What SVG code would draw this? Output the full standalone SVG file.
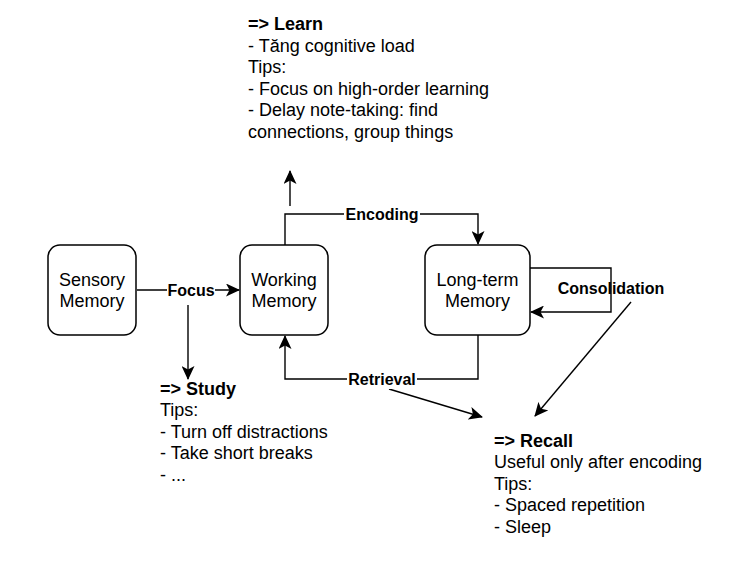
<svg xmlns="http://www.w3.org/2000/svg" width="746" height="562" viewBox="0 0 746 562">
<defs>
<style>
.box{fill:#fff;stroke:#000;stroke-width:1.5}
.edge{fill:none;stroke:#000;stroke-width:1.4}
.lbl{font-family:"Liberation Sans",Arial,sans-serif;font-size:18px;fill:#000;text-anchor:middle}
.elbl{font-family:"Liberation Sans",Arial,sans-serif;font-size:16px;font-weight:bold;fill:#000;text-anchor:middle}
.bg{fill:#fff}
.txt{font-family:"Liberation Sans",Arial,sans-serif;font-size:18px;fill:#000}
.b{font-weight:bold}
</style>
<marker id="arr" markerUnits="userSpaceOnUse" viewBox="0 0 14 13" refX="13" refY="6.5" markerWidth="14" markerHeight="13" orient="auto">
<path d="M0,0 L14,6.5 L0,13 L3.5,6.5 Z" fill="#000"/>
</marker>
</defs>
<rect width="746" height="562" fill="#fff"/>

<g id="connectors">
<path class="edge" d="M137,290 L239,290" marker-end="url(#arr)"/>
<path class="edge" d="M188,305 L188,379" marker-end="url(#arr)"/>
<path class="edge" d="M290,206 L290,171" marker-end="url(#arr)"/>
<path class="edge" d="M285,245 L285,214 L478,214 L478,244" marker-end="url(#arr)"/>
<path class="edge" d="M530,268 L611,268 L611,312 L531,312" marker-end="url(#arr)"/>
<path class="edge" d="M478,335 L478,379 L285,379 L285,336" marker-end="url(#arr)"/>
<path class="edge" d="M389,389 L482,417" marker-end="url(#arr)"/>
<path class="edge" d="M631,302 L535,416" marker-end="url(#arr)"/>
<rect class="bg" x="167" y="280" width="48" height="19"/>
<text class="elbl" x="191" y="295.5">Focus</text>
<rect class="bg" x="344" y="205" width="76" height="19"/>
<text class="elbl" x="382" y="219.5">Encoding</text>
<rect class="bg" x="347" y="370" width="70" height="19"/>
<text class="elbl" x="382" y="384.5">Retrieval</text>
<text class="elbl" x="611" y="293.5">Consolidation</text>
</g>

<g id="sensory">
<rect class="box" x="48" y="245" width="88" height="90" rx="12"/>
<text class="lbl" x="92" y="285.5">Sensory</text>
<text class="lbl" x="92" y="307">Memory</text>
</g>

<g id="working">
<rect class="box" x="240" y="245" width="88" height="90" rx="12"/>
<text class="lbl" x="284" y="285.5">Working</text>
<text class="lbl" x="284" y="307">Memory</text>
</g>

<g id="longterm">
<rect class="box" x="425" y="245" width="105" height="90" rx="12"/>
<text class="lbl" x="477.5" y="285.5">Long-term</text>
<text class="lbl" x="477.5" y="307">Memory</text>
</g>

<g id="learn">
<text class="txt" x="248" y="30"><tspan class="b">=&gt; Learn</tspan><tspan x="248" dy="21.6">- Tăng cognitive load</tspan><tspan x="248" dy="21.6">Tips:</tspan><tspan x="248" dy="21.6">- Focus on high-order learning</tspan><tspan x="248" dy="21.6">- Delay note-taking: find</tspan><tspan x="248" dy="21.6">connections, group things</tspan></text>
</g>

<g id="study">
<text class="txt" x="160" y="394.5"><tspan class="b">=&gt; Study</tspan><tspan x="160" dy="21.6">Tips:</tspan><tspan x="160" dy="21.6">- Turn off distractions</tspan><tspan x="160" dy="21.6">- Take short breaks</tspan><tspan x="160" dy="21.6">- ...</tspan></text>
</g>

<g id="recall">
<text class="txt" x="494" y="446.5"><tspan class="b">=&gt; Recall</tspan><tspan x="494" dy="21.6">Useful only after encoding</tspan><tspan x="494" dy="21.6">Tips:</tspan><tspan x="494" dy="21.6">- Spaced repetition</tspan><tspan x="494" dy="21.6">- Sleep</tspan></text>
</g>
</svg>
